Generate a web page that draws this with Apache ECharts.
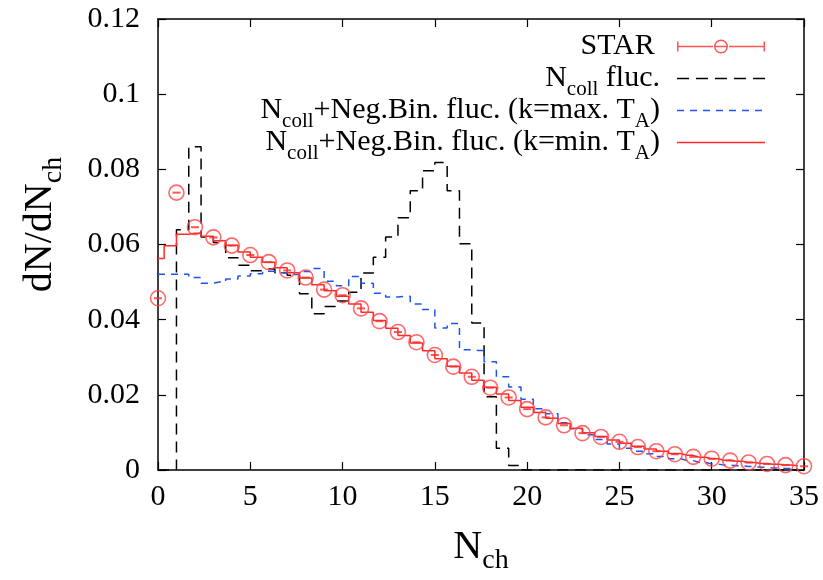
<!DOCTYPE html>
<html>
<head>
<meta charset="utf-8">
<script src="https://cdn.jsdelivr.net/npm/echarts@6/dist/echarts.min.js"></script>
<style>html,body{margin:0;padding:0;background:#fff}#c{width:823px;height:580px}</style>
</head>
<body>
<div id="c"></div>
<script>
// ---- data ----
const starX = [0,1,2,3,4,5,6,7,8,9,10,11,12,13,14,15,16,17,18,19,20,21,22,23,24,25,26,27,28,29,30,31,32,33,34,35];
const starY = [0.0457,0.0738,0.0646,0.0619,0.0597,0.0572,0.0553,0.0531,0.0512,0.0480,0.0465,0.0430,0.0396,0.0367,0.0340,0.0306,0.0275,0.0248,0.0219,0.0193,0.0162,0.0140,0.0119,0.0098,0.0088,0.0075,0.0061,0.0050,0.0042,0.0035,0.0030,0.0025,0.0020,0.0016,0.0013,0.0010];

// histogram bins: width 2/3, centred at 0, 2/3, 4/3, ...
const binWidth = 2 / 3;
const nCollFluc = [0,0,0.0639,0.0860,0.0620,0.0605,0.0565,0.0545,0.0530,0.0535,0.0525,0.0518,0.0469,0.0416,0.0435,0.0450,0.0473,0.0524,0.0566,0.0620,0.0671,0.0743,0.0796,0.0818,0.0743,0.0602,0.0391,0.0195,0.0058,0.0012,0,0,0,0,0,0,0,0,0,0,0,0,0,0,0,0,0,0,0,0,0,0,0];
const negBinMax = [0.0521,0.0521,0.0521,0.0512,0.0497,0.0500,0.0508,0.0516,0.0522,0.0529,0.0525,0.0520,0.0528,0.0536,0.0502,0.0490,0.0515,0.0497,0.0470,0.0460,0.0462,0.0442,0.0427,0.0378,0.0390,0.0320,0.0318,0.0288,0.0248,0.0221,0.0188,0.0163,0.0150,0.0126,0.0110,0.0094,0.0081,0.0069,0.0058,0.0050,0.0043,0.0036,0.0030,0.0025,0.0020,0.0016,0.0013,0.0011,0.0009,0.0007,0.0005,0.0004,0.0003];
const negBinMin = [0.0563,0.0597,0.0627,0.0630,0.0622,0.0610,0.0598,0.0580,0.0566,0.0553,0.0538,0.0525,0.0511,0.0493,0.0477,0.0462,0.0442,0.0420,0.0398,0.0377,0.0358,0.0338,0.0317,0.0296,0.0276,0.0258,0.0239,0.0220,0.0202,0.0185,0.0167,0.0153,0.0138,0.0124,0.0111,0.0099,0.0089,0.0080,0.0071,0.0063,0.0056,0.0050,0.0044,0.0039,0.0034,0.0030,0.0026,0.0023,0.0020,0.0017,0.0015,0.0013,0.0011];

const xTicks = [0,5,10,15,20,25,30,35];
const yTickLabels = ['0','0.02','0.04','0.06','0.08','0.1','0.12'];

const legendLabels = {
  'STAR': '{n|STAR}{s| }{g|}',
  'Ncoll fluc.': '{n|N}{s|coll}{n| fluc.}{g|}',
  'NegBin max': '{n|N}{s|coll}{n|+Neg.Bin. fluc. (k=max. T}{s|A}{n|)}{g|}',
  'NegBin min': '{n|N}{s|coll}{n|+Neg.Bin. fluc. (k=min. T}{s|A}{n|)}{g|}'
};

// ---- build ----
const FONT = 'Liberation Serif';
const centers = nCollFluc.map((_, i) => i * binWidth);
const pairs = ys => ys.map((y, i) => [centers[i], y]);
const RED = '#ff2b2b';
const BLUE = '#1f55ee';

// legend sample icons (88 x 14 box, filled shapes)
const BOX = ' M0 0H0.01V0.01H0Z M87.99 13.99H88V14H87.99Z';
const starIcon = 'path://M0 6.25H36V7.75H0Z M0 2H1.5V12H0Z M52 6.25H88V7.75H52Z M86.5 2H88V12H86.5Z ' +
  'M37 7A7 7 0 1 1 51 7A7 7 0 1 1 37 7Z M38.5 7A5.5 5.5 0 1 0 49.5 7A5.5 5.5 0 1 0 38.5 7Z M38.5 6.25H49.5V7.75H38.5Z' + BOX;
function dashIcon(dash, gap) {
  let p = 'path://';
  for (let x = 0; x < 88; x += dash + gap) {
    const e = Math.min(88, x + dash);
    p += 'M' + x + ' 6.25H' + e + 'V7.75H' + x + 'Z ';
  }
  return p + BOX;
}
const blackIcon = dashIcon(12, 7);
const blueIcon = dashIcon(7, 6);
const redIcon = 'path://M0 6.25H88V7.75H0Z' + BOX;

const chart = echarts.init(document.getElementById('c'), null, {renderer: 'canvas'});
const axisCommon = {
  axisLine: {show: true, onZero: false, lineStyle: {color: '#000', width: 1.5}},
  axisTick: {show: true, inside: true, length: 8, lineStyle: {color: '#000', width: 1.2}},
  splitLine: {show: false}
};
const nameRich = {
  n: {fontFamily: FONT, fontSize: 40, color: '#000', lineHeight: 40},
  s: {fontFamily: FONT, fontSize: 28, color: '#000', lineHeight: 12, padding: [28, 0, 0, 0]}
};
chart.setOption({
  animation: false,
  backgroundColor: '#fff',
  grid: {left: 158, right: 19, top: 19, bottom: 110, outerBoundsMode: 'none', containLabel: false},
  xAxis: [
    Object.assign({
      type: 'value', min: 0, max: 35, interval: 5, position: 'bottom',
      axisLabel: {fontFamily: FONT, fontSize: 30, color: '#000', margin: 12,
        formatter: v => xTicks.indexOf(v) >= 0 ? String(v) : ''},
      name: '{n|N}{s|ch}', nameLocation: 'middle', nameGap: 57,
      nameTextStyle: {rich: nameRich}
    }, axisCommon),
    Object.assign({
      type: 'value', min: 0, max: 35, interval: 5, position: 'top',
      axisLabel: {show: false}
    }, axisCommon)
  ],
  yAxis: [
    Object.assign({
      type: 'value', min: 0, max: 0.12, interval: 0.02, position: 'left',
      axisLabel: {fontFamily: FONT, fontSize: 30, color: '#000', margin: 18,
        formatter: v => yTickLabels[Math.round(v / 0.02)]},
      name: '{n|dN/dN}{s|ch}', nameLocation: 'middle', nameGap: 98, nameRotate: 90,
      nameTextStyle: {rich: nameRich, padding: [0, 0, 0, 40]}
    }, axisCommon),
    Object.assign({
      type: 'value', min: 0, max: 0.12, interval: 0.02, position: 'right',
      axisLabel: {show: false}
    }, axisCommon)
  ],
  legend: {
    orient: 'vertical', right: 58, top: 25, padding: 0, itemGap: -11,
    align: 'right', itemWidth: 88, itemHeight: 14,
    selectedMode: false,
    data: [
      {name: 'STAR', icon: starIcon, itemStyle: {color: RED, borderWidth: 0}},
      {name: 'Ncoll fluc.', icon: blackIcon, itemStyle: {color: '#000', borderWidth: 0}},
      {name: 'NegBin max', icon: blueIcon, itemStyle: {color: BLUE, borderWidth: 0}},
      {name: 'NegBin min', icon: redIcon, itemStyle: {color: RED, borderWidth: 0}}
    ],
    formatter: name => legendLabels[name],
    textStyle: {rich: {
      n: {fontFamily: FONT, fontSize: 30, color: '#000', lineHeight: 43},
      s: {fontFamily: FONT, fontSize: 21, color: '#000', lineHeight: 10, padding: [22, 0, 0, 0]},
      g: {width: 12}
    }}
  },
  series: [
    {
      name: 'Ncoll fluc.', type: 'line', step: 'middle', data: pairs(nCollFluc),
      symbol: 'none', z: 2,
      lineStyle: {color: '#000', width: 1.5, type: [11, 7]}, itemStyle: {color: '#000'}
    },
    {
      name: 'NegBin max', type: 'line', step: 'middle', data: pairs(negBinMax),
      symbol: 'none', z: 3,
      lineStyle: {color: BLUE, width: 1.5, type: [7, 6]}, itemStyle: {color: BLUE}
    },
    {
      name: 'NegBin min', type: 'line', step: 'middle', data: pairs(negBinMin),
      symbol: 'none', z: 4,
      lineStyle: {color: RED, width: 1.5}, itemStyle: {color: RED}
    },
    {
      name: 'STAR', type: 'scatter', data: starX.map((x, i) => [x, starY[i]]),
      symbol: 'circle', symbolSize: 15, z: 5,
      itemStyle: {color: 'rgba(0,0,0,0)', borderColor: '#ff4444', borderWidth: 1.6}
    },
    {
      name: 'STAR err', type: 'scatter', data: starX.map((x, i) => [x, starY[i]]),
      symbol: 'rect', symbolSize: [8, 2], z: 6,
      itemStyle: {color: RED}
    }
  ]
});
</script>
</body>
</html>
